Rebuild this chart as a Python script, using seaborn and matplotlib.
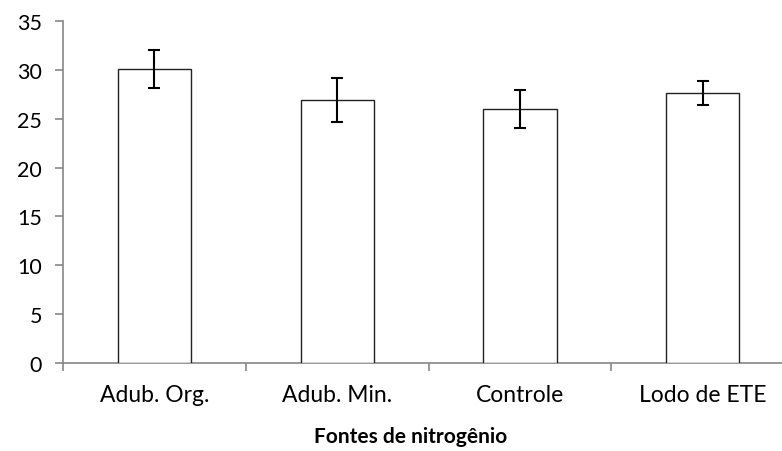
import matplotlib
matplotlib.use("Agg")
import matplotlib.pyplot as plt
import seaborn as sns
import pandas as pd
import numpy as np
from matplotlib.ticker import FixedLocator

categories = ["Adub. Org.", "Adub. Min.", "Controle", "Lodo de ETE"]
values = [30.1, 26.9, 26.0, 27.6]
errors = [1.95, 2.27, 1.9, 1.23]
y_ticks = [0, 5, 10, 15, 20, 25, 30, 35]
x_title = "Fontes de nitrogênio"

sns.set_theme(style="white")
plt.rcParams["font.family"] = ["Lato", "DejaVu Sans"]

df = pd.DataFrame({"cat": categories, "val": values, "err": errors})

fig = plt.figure(figsize=(7.82, 4.52), dpi=100)
ax = fig.add_axes([63 / 782, 1 - 364 / 452, 1 - 63 / 782, (364 - 22) / 452])

sns.barplot(data=df, x="cat", y="val", ax=ax, color="white", edgecolor="#222222",
            linewidth=1.0, width=0.4, errorbar=None)
for p in ax.patches:
    p.set_facecolor("white")

xpos = np.arange(len(categories))
ax.errorbar(xpos, df["val"], yerr=df["err"], fmt="none", ecolor="black",
            elinewidth=1.5, capsize=4, capthick=1.5)

axis_gray = "#868686"
ax.set_ylim(0, 35)
ax.set_xlim(-0.5, (782 - 63) / 182.8 - 0.5)
ax.yaxis.set_major_locator(FixedLocator(y_ticks))
ax.set_yticklabels([str(t) for t in y_ticks])

for s in ["top", "right"]:
    ax.spines[s].set_visible(False)
for s in ["left", "bottom"]:
    ax.spines[s].set_color(axis_gray)
    ax.spines[s].set_linewidth(1.2)
    ax.spines[s].set_zorder(0.5)

ax.tick_params(axis="y", which="major", direction="out", length=6, width=1.2,
               color=axis_gray, labelsize=15.5, pad=9, left=True, labelcolor="black")
ax.tick_params(axis="x", which="major", length=0, labelsize=16.5, pad=15, labelcolor="black")
ax.xaxis.set_minor_locator(FixedLocator(np.arange(len(categories)) - 0.5))
ax.tick_params(axis="x", which="minor", direction="out", length=6, width=1.2,
               color=axis_gray, bottom=True)

ax.set_xlabel("")
ax.set_ylabel("")
fig.text(411 / 782, 1 - 437 / 452, x_title, ha="center", va="center",
         fontsize=15, fontweight="bold", color="black")

fig.savefig("out.png", dpi=100, facecolor="white")
